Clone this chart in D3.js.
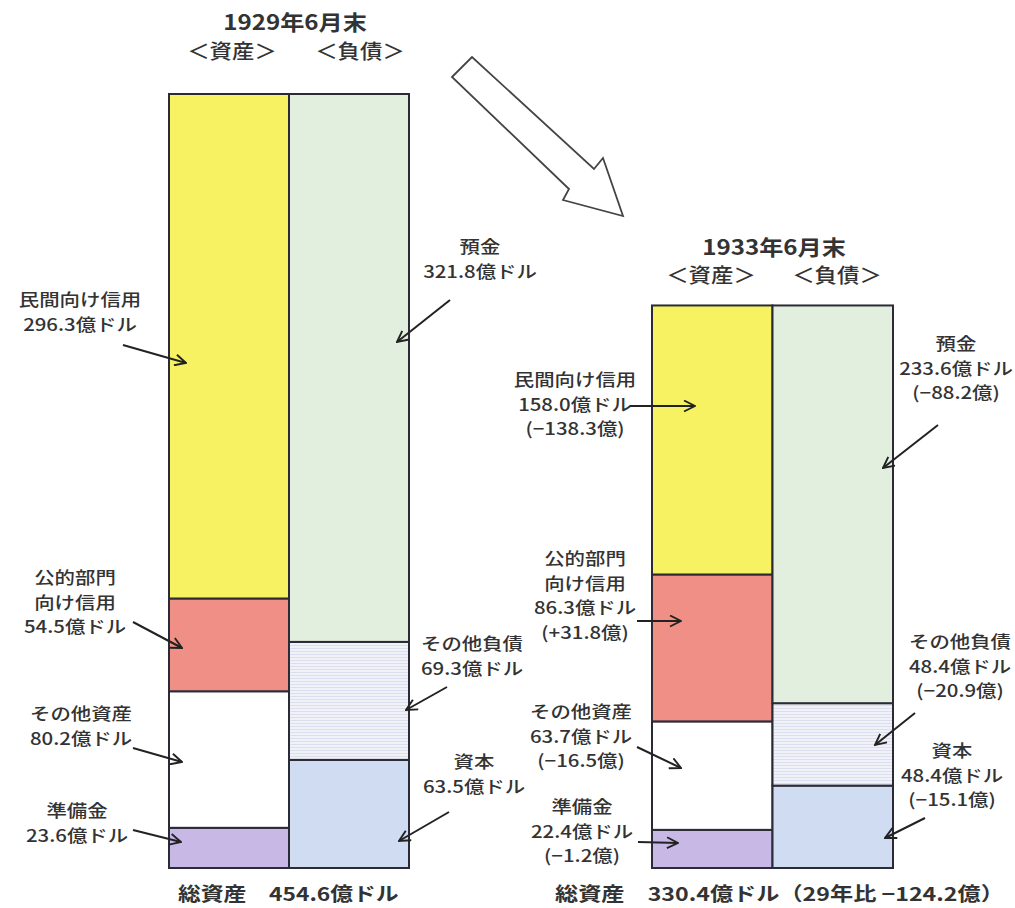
<!DOCTYPE html>
<html>
<head>
<meta charset="utf-8">
<script src="https://cdn.jsdelivr.net/npm/d3@7/dist/d3.min.js"></script>
<style>
  body { margin: 0; background: #fff; }
  svg { display: block; }
  text { font-family: "Noto Sans CJK JP", "Noto Sans", sans-serif; fill: #333; }
</style>
</head>
<body>
<div id="chart-area"></div>
<script>
// Data
var yearLabels = ["1929年6月末", "1933年6月末"];
var sideLabels = ["＜資産＞", "＜負債＞"];
var assetNames = ["民間向け信用", "公的部門向け信用", "その他資産", "準備金"];
var assets1929 = [296.3, 54.5, 80.2, 23.6];
var assets1933 = [158.0, 86.3, 63.7, 22.4];
var assetChange = [-138.3, 31.8, -16.5, -1.2];
var liabNames = ["預金", "その他負債", "資本"];
var liab1929 = [321.8, 69.3, 63.5];
var liab1933 = [233.6, 48.4, 48.4];
var liabChange = [-88.2, -20.9, -15.1];
var totals = [454.6, 330.4];
var totalChange = -124.2;

var fmt = d3.format(".1f");
function chg(v) { return "(" + (v < 0 ? "−" : "+") + fmt(Math.abs(v)) + "億)"; }

var width = 1015, height = 908;
var svg = d3.select("#chart-area").append("svg")
	.attr("width", width)
	.attr("height", height);

var defs = svg.append("defs");
var pat = defs.append("pattern")
	.attr("id", "lines")
	.attr("width", 6).attr("height", 3)
	.attr("patternUnits", "userSpaceOnUse");
pat.append("rect").attr("width", 6).attr("height", 3).attr("fill", "#f0f2f8");
pat.append("rect").attr("width", 6).attr("height", 1).attr("fill", "#d9dfef");

defs.append("marker")
	.attr("id", "head")
	.attr("viewBox", "0 0 13 13")
	.attr("refX", 12).attr("refY", 6.5)
	.attr("markerWidth", 13).attr("markerHeight", 13)
	.attr("markerUnits", "userSpaceOnUse")
	.attr("orient", "auto")
	.append("path")
	.attr("d", "M1,1 L12,6.5 L1,12")
	.attr("fill", "none")
	.attr("stroke", "#222")
	.attr("stroke-width", 1.9);

// shared vertical scale (same px per 億ドル for both years)
var y = d3.scaleLinear().domain([0, totals[0]]).range([868, 94]);

var colors = {
	"民間向け信用": "#f6f262",
	"公的部門向け信用": "#ef8f86",
	"その他資産": "#ffffff",
	"準備金": "#c8b8e6",
	"預金": "#e3efde",
	"その他負債": "url(#lines)",
	"資本": "#cfdcf2"
};

var groups = [
	{ range: [169, 409], assets: assets1929, liab: liab1929 },
	{ range: [652, 893], assets: assets1933, liab: liab1933 }
];

function stackUp(names, vals) {
	// stack from bottom: last item at bottom
	var out = [], base = 0;
	for (var i = vals.length - 1; i >= 0; i--) {
		out.push({ name: names[i], y0: base, y1: base + vals[i] });
		base += vals[i];
	}
	return out;
}

groups.forEach(function(g) {
	var x = d3.scaleBand().domain(["資産", "負債"]).range(g.range);
	var cols = [
		{ side: "資産", segs: stackUp(assetNames, g.assets) },
		{ side: "負債", segs: stackUp(liabNames, g.liab) }
	];
	cols.forEach(function(c) {
		svg.append("g").selectAll("rect")
			.data(c.segs)
			.enter()
			.append("rect")
			.attr("x", x(c.side))
			.attr("width", x.bandwidth())
			.attr("y", function(d) { return y(d.y1); })
			.attr("height", function(d) { return y(d.y0) - y(d.y1); })
			.attr("fill", function(d) { return colors[d.name]; })
			.attr("stroke", "#2b2b38")
			.attr("stroke-width", 2);
	});
});

// text helper: horizontally stretched like the scanned font
function label(cx, by, lines, opts) {
	opts = opts || {};
	var size = opts.size || 17, step = opts.step || 24.5, sx = opts.sx || 1.2;
	lines.forEach(function(t, i) {
		svg.append("text")
			.attr("transform", "translate(" + cx + "," + (by + i * step) + ") scale(" + sx + ",1)")
			.attr("text-anchor", opts.anchor || "middle")
			.attr("font-size", size)
			.attr("font-weight", opts.weight || 500)
			.text(t);
	});
}

// titles
label(295, 30, [yearLabels[0]], { size: 21, weight: 700, sx: 1.15 });
label(232, 59, [sideLabels[0]], { size: 20, sx: 1.12 });
label(360, 59, [sideLabels[1]], { size: 20, sx: 1.12 });
label(774, 255, [yearLabels[1]], { size: 21, weight: 700, sx: 1.15 });
label(711, 283, [sideLabels[0]], { size: 20, sx: 1.12 });
label(837, 283, [sideLabels[1]], { size: 20, sx: 1.12 });

// annotations: [cx, first baseline, lines, arrow from, arrow to]
var notes = [
	[80, 306, ["民間向け信用", fmt(assets1929[0]) + "億ドル"], [123, 345], [186, 363]],
	[75, 584, ["公的部門", "向け信用", fmt(assets1929[1]) + "億ドル"], [133, 622], [182, 648]],
	[81, 720, ["その他資産", fmt(assets1929[2]) + "億ドル"], [133, 748], [182, 762]],
	[77, 817, ["準備金", fmt(assets1929[3]) + "億ドル"], [133, 830], [181, 842]],
	[480, 253, ["預金", fmt(liab1929[0]) + "億ドル"], [450, 300], [397, 342]],
	[472, 650, ["その他負債", fmt(liab1929[1]) + "億ドル"], [447, 687], [406, 710]],
	[474, 768, ["資本", fmt(liab1929[2]) + "億ドル"], [449, 812], [399, 841]],

	[575, 386, ["民間向け信用", fmt(assets1933[0]) + "億ドル", chg(assetChange[0])], [630, 406], [695, 406]],
	[585, 565, ["公的部門", "向け信用", fmt(assets1933[1]) + "億ドル", chg(assetChange[1])], [637, 621], [681, 621]],
	[581, 718, ["その他資産", fmt(assets1933[2]) + "億ドル", chg(assetChange[2])], [637, 747], [681, 768]],
	[582, 813, ["準備金", fmt(assets1933[3]) + "億ドル", chg(assetChange[3])], [638, 842], [678, 843]],
	[956, 350, ["預金", fmt(liab1933[0]) + "億ドル", chg(liabChange[0])], [938, 425], [883, 468]],
	[960, 648, ["その他負債", fmt(liab1933[1]) + "億ドル", chg(liabChange[1])], [915, 713], [875, 745]],
	[952, 757, ["資本", fmt(liab1933[2]) + "億ドル", chg(liabChange[2])], [925, 818], [885, 838]]
];

notes.forEach(function(n) {
	label(n[0], n[1], n[2], { step: n[2].length > 2 ? 24.5 : 25 });
	svg.append("line")
		.attr("x1", n[3][0]).attr("y1", n[3][1])
		.attr("x2", n[4][0]).attr("y2", n[4][1])
		.attr("stroke", "#222")
		.attr("stroke-width", 2)
		.attr("marker-end", "url(#head)");
});

// totals
label(178, 901, ["総資産　" + fmt(totals[0]) + "億ドル"], { size: 19, weight: 700, anchor: "start", sx: 1.2 });
label(555, 901, ["総資産　" + fmt(totals[1]) + "億ドル（29年比 " + "−" + fmt(Math.abs(totalChange)) + "億）"], { size: 19, weight: 700, anchor: "start", sx: 1.22 });

// big hollow arrow between the two years
svg.append("path")
	.attr("d", "M452,77 L472,57 L594,169 L603,158 L623,216 L563,200 L569,189 Z")
	.attr("fill", "#fff")
	.attr("stroke", "#444")
	.attr("stroke-width", 1.8)
	.attr("stroke-linejoin", "miter");
</script>
</body>
</html>
